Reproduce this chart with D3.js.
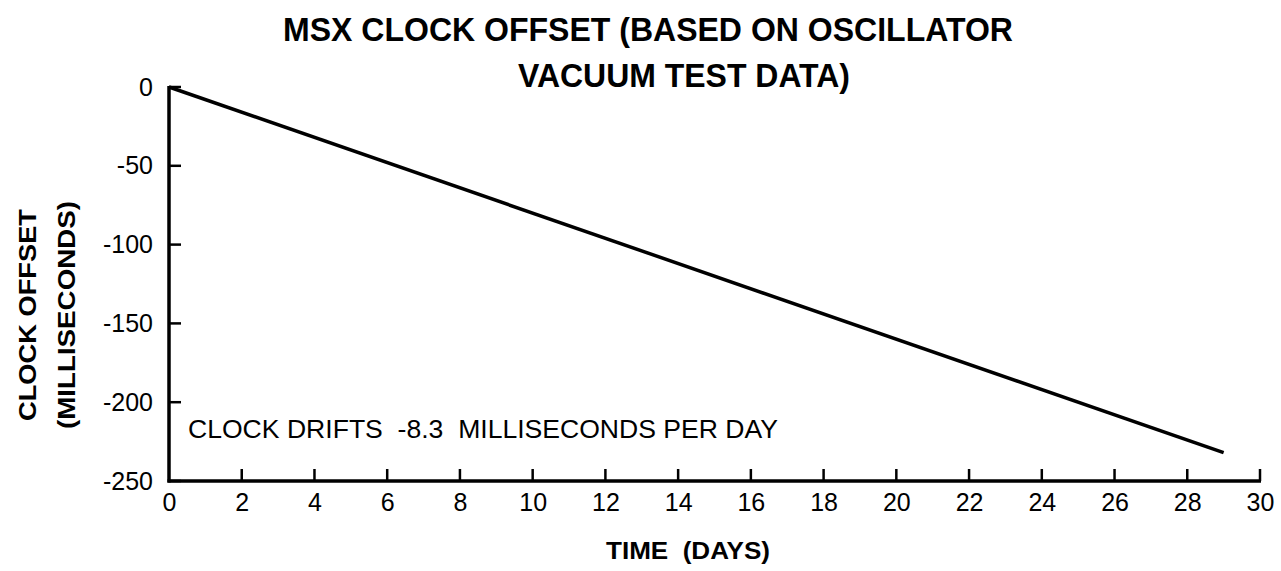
<!DOCTYPE html>
<html>
<head>
<meta charset="utf-8">
<script src="https://cdn.jsdelivr.net/npm/d3@7"></script>
<style>
  html, body { margin: 0; padding: 0; background: #fff; }
  svg { display: block; }
  text { font-family: "Liberation Sans", Arial, Helvetica, sans-serif; fill: #000; white-space: pre; }
</style>
</head>
<body>
<svg id="chart" width="1281" height="571"></svg>
<script>
// ---- data ----
const days = [0, 29];
const offsetMs = [0, -232];
const xTicks = [0, 2, 4, 6, 8, 10, 12, 14, 16, 18, 20, 22, 24, 26, 28, 30];
const yTicks = [0, -50, -100, -150, -200, -250];
const titleLines = ["MSX CLOCK OFFSET (BASED ON OSCILLATOR", "VACUUM TEST DATA)"];
const yTitleLines = ["CLOCK OFFSET", "(MILLISECONDS)"];
const xTitle = "TIME  (DAYS)";
const note = "CLOCK DRIFTS  -8.3  MILLISECONDS PER DAY";

const fmt = d => String(d); // plain hyphen-minus as in the original

const svg = d3.select("#chart");
const x = d3.scaleLinear().domain([0, 30]).range([169, 1260]);
const y = d3.scaleLinear().domain([-250, 0]).range([481, 87]);

// axes
const xAxis = d3.axisBottom(x).tickValues(xTicks).tickSize(0).tickPadding(12).tickFormat(fmt);
const gx = svg.append("g").attr("transform", `translate(0,${y(-250)})`).call(xAxis);
gx.select(".domain").remove();
gx.selectAll("text").style("font-size", "25px").attr("fill", "#000").attr("dy", "0.71em");

const yAxis = d3.axisLeft(y).tickValues(yTicks).tickSize(0).tickPadding(16).tickFormat(fmt);
const gy = svg.append("g").attr("transform", `translate(${x(0)},0)`).call(yAxis);
gy.select(".domain").remove();
gy.selectAll("text").style("font-size", "25px").attr("fill", "#000");

// axis lines
svg.append("line").attr("x1", x(0)).attr("x2", x(0)).attr("y1", y(0) - 1).attr("y2", y(-250) + 1.5)
  .attr("stroke", "#000").attr("stroke-width", 3.5);
svg.append("line").attr("x1", x(0) - 1.5).attr("x2", x(30) + 1).attr("y1", y(-250)).attr("y2", y(-250))
  .attr("stroke", "#000").attr("stroke-width", 3.5);

// tick marks (inward)
svg.append("g").selectAll("line").data(yTicks).join("line")
  .attr("x1", x(0)).attr("x2", x(0) + 12).attr("y1", d => y(d)).attr("y2", d => y(d))
  .attr("stroke", "#000").attr("stroke-width", 2.5);
svg.append("g").selectAll("line").data(xTicks.filter(d => d > 0)).join("line")
  .attr("x1", d => x(d)).attr("x2", d => x(d)).attr("y1", y(-250)).attr("y2", y(-250) - 12)
  .attr("stroke", "#000").attr("stroke-width", 2.5);

// data line
const pts = days.map((d, i) => [d, offsetMs[i]]);
svg.append("path").datum(pts)
  .attr("d", d3.line().x(d => x(d[0])).y(d => y(d[1])))
  .attr("fill", "none").attr("stroke", "#000").attr("stroke-width", 3.5);

// title
svg.append("text").attr("x", 648).attr("y", 41).attr("text-anchor", "middle")
  .attr("font-weight", "bold").style("font-size", "34px")
  .attr("textLength", 730).attr("lengthAdjust", "spacingAndGlyphs").text(titleLines[0]);
svg.append("text").attr("x", 684).attr("y", 87).attr("text-anchor", "middle")
  .attr("font-weight", "bold").style("font-size", "34px")
  .attr("textLength", 332).attr("lengthAdjust", "spacingAndGlyphs").text(titleLines[1]);

// x title
svg.append("text").attr("x", 688).attr("y", 559).attr("text-anchor", "middle")
  .attr("font-weight", "bold").style("font-size", "24px")
  .attr("textLength", 164).attr("lengthAdjust", "spacingAndGlyphs").text(xTitle);

// y title
svg.append("text").attr("transform", "translate(36,315) rotate(-90)").attr("text-anchor", "middle")
  .attr("font-weight", "bold").style("font-size", "24px")
  .attr("textLength", 212).attr("lengthAdjust", "spacingAndGlyphs").text(yTitleLines[0]);
svg.append("text").attr("transform", "translate(75,315) rotate(-90)").attr("text-anchor", "middle")
  .attr("font-weight", "bold").style("font-size", "24px")
  .attr("textLength", 228).attr("lengthAdjust", "spacingAndGlyphs").text(yTitleLines[1]);

// annotation
svg.append("text").attr("x", 188).attr("y", 438)
  .style("font-size", "25px")
  .attr("textLength", 590).attr("lengthAdjust", "spacingAndGlyphs").text(note);
</script>
</body>
</html>
